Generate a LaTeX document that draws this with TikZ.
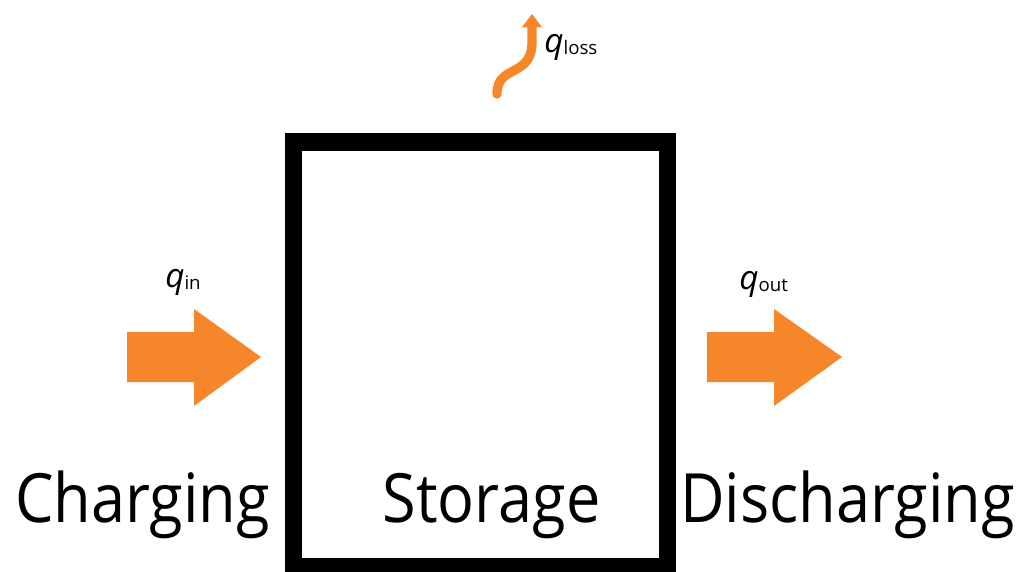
\documentclass[tikz,border=0pt]{standalone}
\usepackage{fontspec}
\setmainfont{Open Sans}
\newfontfamily\bigfont[FakeStretch=0.9]{Open Sans}
\usetikzlibrary{arrows.meta}
\definecolor{heat}{RGB}{246,134,42}
\newcommand\heatq[1]{{\fontsize{25}{25}\selectfont\itshape q}{\fontsize{14}{14}\selectfont\raisebox{-1.5pt}{#1}}}
\begin{document}
\begin{tikzpicture}[x=0.75pt,y=-0.75pt,
  bigtext/.style={inner sep=0pt, anchor=base, font=\bigfont\fontsize{51}{51}\selectfont},
  qlabel/.style={inner sep=0pt, anchor=base west},
  blockarrow/.style={fill=heat},
  wall/.style={draw=black, line width=13.1pt},
  lossflow/.style={draw=heat, line width=7pt, line cap=round, -{Triangle[length=10pt,width=14.5pt]}}]
\useasboundingbox (0,0) rectangle (1020,571);
\clip (0,0) rectangle (1020,571);
\fill[white] (0,0) rectangle (1020,571);
% storage wall
\coordinate (boxnw) at (293.5,142);
\coordinate (boxse) at (667.5,567);
\draw[wall] (boxnw) rectangle (boxse);
% block arrows
\fill[blockarrow] (127,332) -- (194,332) -- (194,309) -- (261,357) -- (194,406) -- (194,382) -- (127,382) -- cycle;
\fill[blockarrow] (707,332) -- (774,332) -- (774,309) -- (842,357) -- (774,406) -- (774,382) -- (707,382) -- cycle;
% loss arrow
\coordinate (lossstart) at (497,94);
\coordinate (losstip) at (532,14);
\draw[lossflow] (lossstart) .. controls (497,64) and (532,78) .. (532,42) -- (losstip);
% labels
\node[qlabel] (qin) at (165,287) {\heatq{in}};
\node[qlabel] (qout) at (739,289) {\heatq{out}};
\node[qlabel] (qloss) at (544,52) {\heatq{loss}};
\node[bigtext] (charging) at (142.5,522) {Charging};
\node[bigtext] (storage) at (491.5,522) {Storage};
\node[bigtext] (discharging) at (847.5,522) {Discharging};
\end{tikzpicture}
\end{document}
